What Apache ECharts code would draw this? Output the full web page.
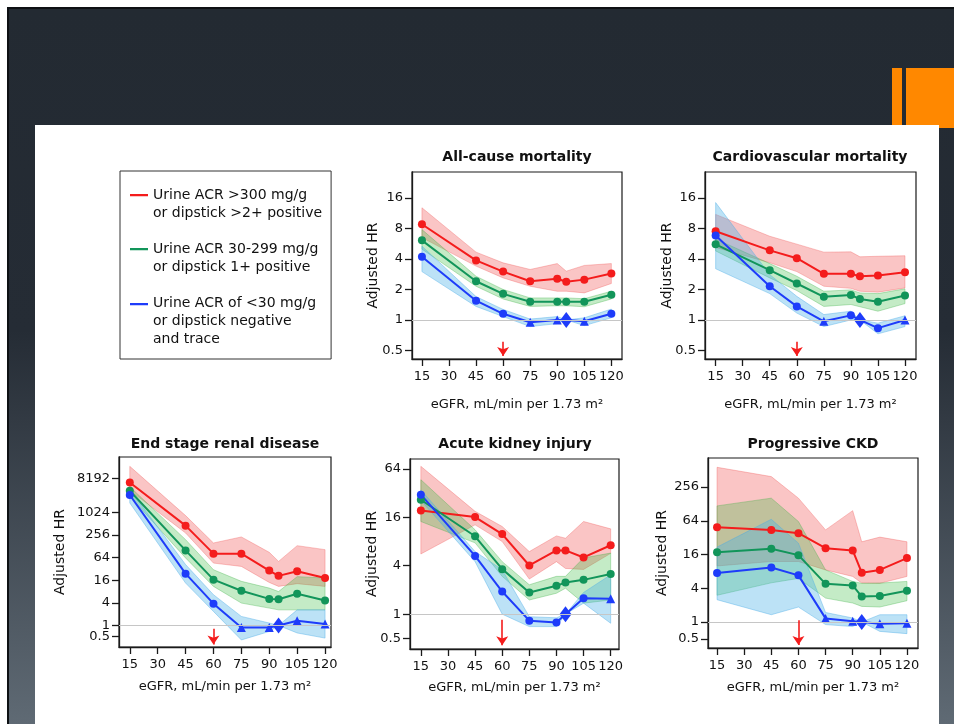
<!DOCTYPE html>
<html><head><meta charset="utf-8">
<script src="https://cdn.jsdelivr.net/npm/echarts@6/dist/echarts.min.js"></script>
<style>
html,body{margin:0;padding:0;width:954px;height:724px;overflow:hidden;background:#fff;}
#frame{position:absolute;left:7px;top:7px;width:947px;height:717px;box-sizing:border-box;border-top:2px solid #0e1114;border-left:2px solid #0e1114;background:linear-gradient(to bottom,#232a32 0%,#252c35 45%,#5f6a74 100%);}
.or{position:absolute;background:#ff8800;}
#panel{position:absolute;left:35px;top:125px;width:904px;height:599px;background:#fff;}
#chart{position:absolute;left:0;top:0;width:954px;height:724px;}
</style></head>
<body>
<div id="frame"></div>
<div class="or" style="left:892px;top:68px;width:10px;height:60px"></div>
<div class="or" style="left:906px;top:68px;width:48px;height:60px"></div>
<div id="panel"></div>
<div id="chart"></div>
<script>
// ---------- DATA ----------
const eGFR = [15, 45, 60, 75, 90, 95, 105, 120];
const xTicks = [15, 30, 45, 60, 75, 90, 105, 120];
const arrowEGFR = 60;
const panelTitles = ['All-cause mortality', 'Cardiovascular mortality', 'End stage renal disease', 'Acute kidney injury', 'Progressive CKD'];
const seriesNames = [
  'Urine ACR >300 mg/g\nor dipstick >2+ positive',
  'Urine ACR 30-299 mg/g\nor dipstick 1+ positive',
  'Urine ACR of <30 mg/g\nor dipstick negative\nand trace'
];
const xAxisName = 'eGFR, mL/min per 1.73 m\u00B2';
const yAxisName = 'Adjusted HR';

// All-cause mortality
const acmRed = [8.8, 3.87, 3.0, 2.41, 2.55, 2.38, 2.5, 2.87];
const acmRedLow = [6.5, 3.4, 2.6, 2.15, 1.92, 1.92, 1.85, 2.29];
const acmRedHigh = [12.8, 4.67, 3.66, 3.15, 3.6, 3.03, 3.45, 3.6];
const acmGreen = [6.1, 2.41, 1.81, 1.51, 1.51, 1.51, 1.51, 1.77];
const acmGreenLow = [5.0, 2.15, 1.61, 1.36, 1.38, 1.38, 1.35, 1.61];
const acmGreenHigh = [7.8, 2.7, 2.0, 1.65, 1.65, 1.65, 1.62, 1.92];
const acmBlue = [4.2, 1.55, 1.15, 0.95, 1.0, 1.0, 0.97, 1.15];
const acmBlueLow = [3.0, 1.36, 1.08, 0.86, 0.92, 1.0, 0.88, 1.05];
const acmBlueHigh = [5.35, 1.7, 1.27, 1.02, 1.08, 1.0, 1.05, 1.28];
const acmBlueMarks = ['c', 'c', 'c', 't', 't', 'd', 't', 'c'];
const acmArrow = [0.61, 0.44];

// Cardiovascular mortality
const cvmRed = [7.5, 4.86, 4.07, 2.85, 2.85, 2.7, 2.75, 2.96];
const cvmRedLow = [5.2, 3.67, 3.0, 2.15, 2.05, 1.92, 1.88, 2.07];
const cvmRedHigh = [11, 6.7, 5.6, 4.67, 4.7, 4.2, 4.25, 4.3];
const cvmGreen = [5.57, 3.1, 2.29, 1.69, 1.76, 1.61, 1.51, 1.74];
const cvmGreenLow = [4.8, 2.6, 1.95, 1.36, 1.42, 1.35, 1.22, 1.45];
const cvmGreenHigh = [6.3, 3.6, 2.7, 1.92, 1.98, 1.85, 1.82, 2.03];
const cvmBlue = [6.8, 2.15, 1.36, 0.97, 1.11, 1.0, 0.83, 1.0];
const cvmBlueLow = [3.2, 1.82, 1.17, 0.86, 1.0, 1.0, 0.73, 0.86];
const cvmBlueHigh = [14.4, 2.8, 1.71, 1.13, 1.22, 1.0, 0.93, 1.1];
const cvmBlueMarks = ['c', 'c', 'c', 't', 'c', 'd', 'c', 't'];
const cvmArrow = [0.61, 0.44];

// End stage renal disease
const esrdRed = [6500, 458, 82, 82, 29, 21, 28, 18.4];
const esrdRedLow = [4000, 292, 46, 37.5, 14, 11, 13, 11];
const esrdRedHigh = [17500, 850, 158, 229, 89, 51, 134, 105];
const esrdGreen = [3900, 100, 16.6, 8.4, 5.1, 5.0, 7.0, 4.6];
const esrdGreenLow = [2800, 63, 11, 3.95, 2.9, 2.6, 2.6, 2.6];
const esrdGreenHigh = [5000, 194, 30.6, 15, 9.9, 8, 20, 18.4];
const esrdBlue = [3000, 24, 3.8, 0.88, 0.88, 1.0, 1.33, 1.1];
const esrdBlueLow = [1850, 13.5, 2.36, 0.41, 0.69, 1.0, 0.63, 0.46];
const esrdBlueHigh = [4200, 42, 6.6, 1.74, 1.16, 1.0, 2.6, 2.6];
const esrdBlueMarks = ['c', 'c', 'c', 't', 't', 'd', 't', 't'];
const esrdArrow = [0.82, 0.31];

// Acute kidney injury
const akiRed = [19.5, 16.1, 9.9, 4.03, 6.2, 6.2, 5.07, 7.2];
const akiRedLow = [5.6, 12.9, 8.0, 2.73, 4.5, 3.7, 3.6, 5.7];
const akiRedHigh = [69, 19, 12.3, 6.0, 9.4, 8.8, 14.2, 11.5];
const akiGreen = [26.5, 9.3, 3.63, 1.86, 2.25, 2.48, 2.67, 3.15];
const akiGreenLow = [14.2, 7.7, 2.95, 1.5, 1.82, 2.1, 1.37, 1.5];
const akiGreenHigh = [47, 11.2, 4.5, 2.32, 2.95, 2.95, 5.0, 5.75];
const akiBlue = [30.6, 5.3, 1.91, 0.83, 0.79, 1.0, 1.58, 1.55];
const akiBlueLow = [26, 4.5, 1.0, 0.7, 0.7, 1.0, 1.37, 0.77];
const akiBlueHigh = [35, 6.0, 3.56, 0.93, 0.9, 1.0, 1.86, 3.09];
const akiBlueMarks = ['c', 'c', 'c', 'c', 'c', 'd', 'c', 't'];
const akiArrow = [0.85, 0.41];

// Progressive CKD
const ckdRed = [49, 44, 38.5, 20.8, 18.9, 7.6, 8.5, 13.8];
const ckdRedLow = [10, 12, 12, 8.5, 6.5, 4.95, 4.9, 6.5];
const ckdRedHigh = [576, 393, 162, 44, 97, 27, 32.7, 27];
const ckdGreen = [17.6, 20.2, 15.6, 4.8, 4.5, 2.85, 2.9, 3.6];
const ckdGreenLow = [3, 5, 6, 2.67, 2.18, 1.9, 1.85, 2.4];
const ckdGreenHigh = [118, 162, 62, 8.5, 5.3, 4.9, 4.95, 5.3];
const ckdBlue = [7.5, 9.4, 6.8, 1.16, 1.03, 1.0, 0.93, 0.95];
const ckdBlueLow = [2.5, 1.35, 1.85, 0.9, 0.83, 1.0, 0.68, 0.62];
const ckdBlueHigh = [21.7, 68, 25.5, 1.48, 1.18, 1.0, 1.35, 1.35];
const ckdBlueMarks = ['c', 'c', 'c', 't', 't', 'd', 't', 't'];
const ckdArrow = [1.07, 0.39];

// Y tick labels (HR)
const ticksMortality = [0.5, 1, 2, 4, 8, 16];
const ticksESRD = [0.5, 1, 4, 16, 64, 256, 1024, 8192];
const ticksAKI = [0.5, 1, 4, 16, 64];
const ticksCKD = [0.5, 1, 4, 16, 64, 256];

// ---------- LAYOUT / STYLE ----------
const FONT = '"DejaVu Sans", Verdana, sans-serif';
const lineColors = ['#f41c1c', '#12955a', '#1e3cfa'];
const bandFill = ['rgba(238,40,40,0.27)', 'rgba(50,185,60,0.29)', 'rgba(70,175,230,0.36)'];
const bandEdge = ['rgba(238,70,70,0.30)', 'rgba(50,170,60,0.32)', 'rgba(70,170,230,0.40)'];
const marker = { c: { symbol: 'circle', size: 8 }, t: { symbol: 'triangle', size: 9 }, d: { symbol: 'diamond', size: [12, 16] } };

const panels = [
  { red: [acmRed, acmRedLow, acmRedHigh], green: [acmGreen, acmGreenLow, acmGreenHigh], blue: [acmBlue, acmBlueLow, acmBlueHigh], marks: acmBlueMarks, arrow: acmArrow, ticks: ticksMortality,
    grid: { left: 412, top: 172, width: 210, height: 187 }, xExt: [9.5, 125.9], yExt: [-1.28, 4.85], nameGap: 32, xNameGap: 39, titleX: 517, titleY: 150 },
  { red: [cvmRed, cvmRedLow, cvmRedHigh], green: [cvmGreen, cvmGreenLow, cvmGreenHigh], blue: [cvmBlue, cvmBlueLow, cvmBlueHigh], marks: cvmBlueMarks, arrow: cvmArrow, ticks: ticksMortality,
    grid: { left: 705, top: 172, width: 211, height: 187 }, xExt: [9.1, 126.1], yExt: [-1.28, 4.85], nameGap: 31, xNameGap: 39, titleX: 810, titleY: 150 },
  { red: [esrdRed, esrdRedLow, esrdRedHigh], green: [esrdGreen, esrdGreenLow, esrdGreenHigh], blue: [esrdBlue, esrdBlueLow, esrdBlueHigh], marks: esrdBlueMarks, arrow: esrdArrow, ticks: ticksESRD,
    grid: { left: 119, top: 457, width: 212, height: 190 }, xExt: [9.2, 123.2], yExt: [-1.91, 14.92], nameGap: 52, xNameGap: 33, titleX: 225, titleY: 437 },
  { red: [akiRed, akiRedLow, akiRedHigh], green: [akiGreen, akiGreenLow, akiGreenHigh], blue: [akiBlue, akiBlueLow, akiBlueHigh], marks: akiBlueMarks, arrow: akiArrow, ticks: ticksAKI,
    grid: { left: 410, top: 459, width: 209, height: 190 }, xExt: [9.0, 124.6], yExt: [-1.44, 6.41], nameGap: 31, xNameGap: 32, titleX: 515, titleY: 437 },
  { red: [ckdRed, ckdRedLow, ckdRedHigh], green: [ckdGreen, ckdGreenLow, ckdGreenHigh], blue: [ckdBlue, ckdBlueLow, ckdBlueHigh], marks: ckdBlueMarks, arrow: ckdArrow, ticks: ticksCKD,
    grid: { left: 708, top: 458, width: 210, height: 190 }, xExt: [10, 126.1], yExt: [-1.54, 9.72], nameGap: 39, xNameGap: 33, titleX: 813, titleY: 437 }
];

const L2 = v => Math.log2(v);
const fmtHR = v => String(Math.round(Math.pow(2, v) * 100) / 100);
const axisCol = '#1a1a1a';

const grids = [], xAxes = [], yAxes = [], titles = [], series = [];
panels.forEach((p, i) => {
  grids.push(Object.assign({ show: true, borderColor: axisCol, borderWidth: 1.2, backgroundColor: 'transparent', containLabel: false }, p.grid));
  titles.push({ text: panelTitles[i], left: p.titleX, top: p.titleY, textAlign: 'center', padding: 0,
    textStyle: { fontFamily: FONT, fontSize: 14, fontWeight: 'bold', color: '#111' } });
  xAxes.push({
    type: 'value', gridIndex: i, min: p.xExt[0], max: p.xExt[1],
    name: xAxisName, nameLocation: 'middle', nameGap: p.xNameGap, nameMoveOverlap: false,
    nameTextStyle: { fontFamily: FONT, fontSize: 13, color: '#111' },
    axisLine: { show: true, onZero: false, lineStyle: { color: axisCol, width: 1.3 } },
    axisTick: { show: true, length: 7, customValues: xTicks, lineStyle: { color: axisCol, width: 1.3 } },
    axisLabel: { customValues: xTicks, fontFamily: FONT, fontSize: 13, color: '#111', margin: 11,
      hideOverlap: false, showMinLabel: true, showMaxLabel: true },
    splitLine: { show: false }
  });
  // tick positions in log2 space; 0.5 is listed third so the library's
  // first/second-label overlap check does not drop the tightly spaced "0.5" or "1"
  const tl = p.ticks.map(L2);
  const tlOrdered = [tl[1], tl[2], tl[0]].concat(tl.slice(3));
  yAxes.push({
    type: 'value', gridIndex: i, min: p.yExt[0], max: p.yExt[1],
    name: yAxisName, nameLocation: 'middle', nameGap: p.nameGap, nameMoveOverlap: false,
    nameTextStyle: { fontFamily: FONT, fontSize: 14, color: '#111' },
    axisLine: { show: true, onZero: false, lineStyle: { color: axisCol, width: 1.3 } },
    axisTick: { show: true, length: 7, customValues: tlOrdered, lineStyle: { color: axisCol, width: 1.3 } },
    axisLabel: { customValues: tlOrdered, formatter: fmtHR, fontFamily: FONT, fontSize: 13, color: '#111', margin: 9,
      hideOverlap: false, showMinLabel: true, showMaxLabel: true },
    splitLine: { show: false }
  });

  const groups = [p.red, p.green, p.blue];
  groups.forEach((g, k) => {
    const bandData = eGFR.map((x, j) => [x, L2(g[1][j]), L2(g[2][j])]);
    series.push({
      type: 'custom', name: 'band' + i + '_' + k, coordinateSystem: 'cartesian2d',
      xAxisIndex: i, yAxisIndex: i, z: 1, silent: true,
      encode: { x: 0, y: [1, 2] },
      data: bandData,
      renderItem: (params, api) => {
        if (params.dataIndex !== 0) return null;
        const upper = bandData.map(d => api.coord([d[0], d[2]]));
        const lower = bandData.map(d => api.coord([d[0], d[1]])).reverse();
        return { type: 'polygon', shape: { points: upper.concat(lower) },
          style: { fill: bandFill[k], stroke: bandEdge[k], lineWidth: 1 } };
      },
      markLine: k === 0 ? {
        silent: true, symbol: ['none', 'none'], label: { show: false }, emphasis: { disabled: true },
        lineStyle: { color: '#c6c6c6', width: 1, type: 'solid' },
        data: [{ yAxis: L2(1) }]
      } : undefined
    });
  });
  groups.forEach((g, k) => {
    series.push({
      type: 'line', name: seriesNames[k], xAxisIndex: i, yAxisIndex: i, z: 3,
      symbol: 'circle', symbolSize: 8,
      lineStyle: { color: lineColors[k], width: 2 },
      itemStyle: { color: lineColors[k], borderWidth: 0 },
      emphasis: { disabled: true },
      data: eGFR.map((x, j) => {
        const m = marker[k === 2 ? p.marks[j] : 'c'];
        return { value: [x, L2(g[0][j])], symbol: m.symbol, symbolSize: m.size };
      }),
      markLine: k === 2 ? {
        silent: true, symbol: ['none', 'arrow'], symbolSize: 9, label: { show: false }, emphasis: { disabled: true },
        lineStyle: { color: lineColors[0], width: 1.6, type: 'solid' },
        data: [[{ coord: [arrowEGFR, L2(p.arrow[0])] }, { coord: [arrowEGFR, L2(p.arrow[1])] }]]
      } : undefined
    });
  });
});

const icon2 = 'path://M0,0h0.01v0.01h-0.01zM0,8h18v2.3h-18zM0,36h0.01v0.01h-0.01z';
const icon3 = 'path://M0,0h18v2.3h-18zM0,36h0.01v0.01h-0.01z';

const chart = echarts.init(document.getElementById('chart'), null, { renderer: 'canvas' });
chart.setOption({
  animation: false,
  backgroundColor: 'transparent',
  textStyle: { fontFamily: FONT },
  title: titles,
  legend: {
    left: 120, top: 171, orient: 'vertical',
    padding: [15, 9, 11, 10], itemGap: 18, itemWidth: 18, itemHeight: 36,
    symbolKeepAspect: false, selectedMode: false,
    borderColor: '#333', borderWidth: 1, backgroundColor: '#fff', borderRadius: 0,
    itemStyle: { borderWidth: 0 },
    textStyle: { fontFamily: FONT, fontSize: 14, lineHeight: 18, color: '#111' },
    data: [
      { name: seriesNames[0], icon: icon2 },
      { name: seriesNames[1], icon: icon2 },
      { name: seriesNames[2], icon: icon3 }
    ]
  },
  grid: grids, xAxis: xAxes, yAxis: yAxes, series
});
</script>
</body></html>
